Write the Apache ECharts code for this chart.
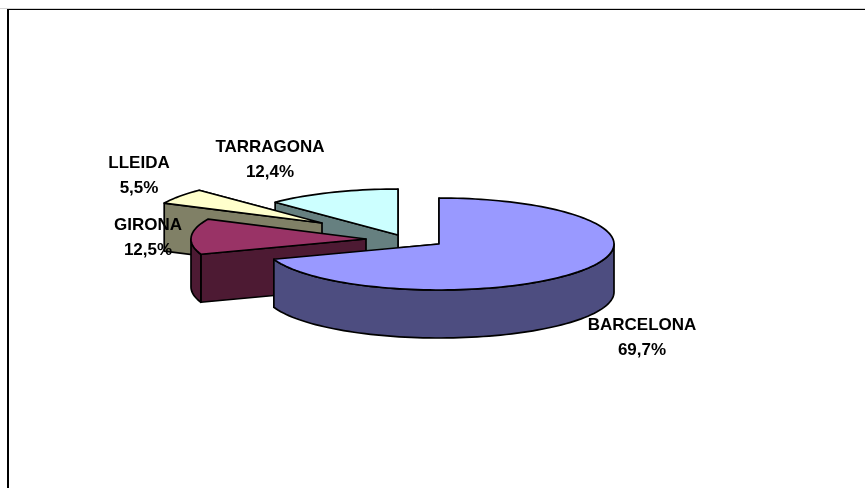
<!DOCTYPE html>
<html>
<head>
<meta charset="utf-8">
<style>html,body{margin:0;padding:0;background:#fff}#c{width:865px;height:488px}</style>
<script src="https://cdn.jsdelivr.net/npm/echarts@6/dist/echarts.min.js"></script>
</head>
<body>
<div id="c"></div>
<script>
const categories = ['BARCELONA', 'GIRONA', 'LLEIDA', 'TARRAGONA'];
const values = [69.7, 12.5, 5.5, 12.4];
const valueLabels = ['69,7%', '12,5%', '5,5%', '12,4%'];

// Layout and styling of the tilted, exploded pie
const topColors = ['#9999FF', '#993366', '#FFFFCC', '#CCFFFF'];
const wallColors = ['#4D4D80', '#4D1A33', '#808066', '#668080'];
const sliceOffsets = [[439, 244], [366, 239], [322, 223], [398, 235]];
const labelCentres = [[642, 338], [148, 238], [139, 176], [270, 160]];
const RX = 175, RY = 46, DEPTH = 48;

const total = values.reduce((a, b) => a + b, 0);
const pt = (c, deg, dy) => {
  const r = deg * Math.PI / 180;
  return [c[0] + RX * Math.sin(r), c[1] - RY * Math.cos(r) + (dy || 0)];
};
const arc = (c, from, to, dy) => {
  const out = [];
  const n = Math.max(2, Math.ceil(Math.abs(to - from) / 2));
  for (let i = 0; i <= n; i++) out.push(pt(c, from + (to - from) * i / n, dy));
  return out;
};
const line = { stroke: '#000', lineWidth: 1.7, lineJoin: 'round' };
const poly = (points, fill, z2) => ({
  type: 'polygon', z2, shape: { points }, style: Object.assign({ fill }, line), silent: true
});

function renderItem(params, api) {
  const i = api.value(2);
  const from = api.value(0) / total * 360;
  const to = api.value(1) / total * 360;
  const c = sliceOffsets[i];
  const wall = wallColors[i];
  const kids = [];
  // Radial walls: the far edge first, the near edge over it
  [to, from].forEach((a, k) => {
    kids.push(poly([c, pt(c, a), pt(c, a, DEPTH), [c[0], c[1] + DEPTH]], wall, 1 + k));
  });
  // Rim wall on the front half of the ellipse
  const f = Math.max(from, 90), t = Math.min(to, 270);
  if (t > f) {
    kids.push(poly(arc(c, f, t, 0).concat(arc(c, t, f, DEPTH)), wall, 3));
  }
  // Top face
  kids.push(poly([c].concat(arc(c, from, to, 0)), topColors[i], 4));
  return { type: 'group', children: kids };
}

function renderLabel(params, api) {
  const i = api.value(0);
  return {
    type: 'text', silent: true, z2: 100,
    x: labelCentres[i][0], y: labelCentres[i][1],
    style: {
      text: categories[i] + '\n' + valueLabels[i],
      fill: '#000',
      font: 'bold 17px "Liberation Sans", Arial, sans-serif',
      lineHeight: 25, align: 'center', verticalAlign: 'middle'
    }
  };
}

let acc = 0;
const sliceRows = values.map((v, i) => { const r = [acc, acc + v, i]; acc += v; return r; });
// Drawn back to front
const drawOrder = sliceRows.slice().reverse();

const chart = echarts.init(document.getElementById('c'));
chart.setOption({
  animation: false,
  backgroundColor: '#fff',
  graphic: [
    { type: 'line', z: 0, silent: true, shape: { x1: 0, y1: 8.5, x2: 865, y2: 8.5 }, style: { stroke: '#d4d4d4', lineWidth: 1 } },
    { type: 'line', z: 0, silent: true, shape: { x1: 7, y1: 9.5, x2: 865, y2: 9.5 }, style: { stroke: '#000', lineWidth: 1 } },
    { type: 'line', z: 0, silent: true, shape: { x1: 8, y1: 9, x2: 8, y2: 488 }, style: { stroke: '#000', lineWidth: 2 } }
  ],
  series: [
    { type: 'custom', coordinateSystem: 'none', renderItem, data: drawOrder, z: 2, clip: false, silent: true },
    { type: 'custom', coordinateSystem: 'none', renderItem: renderLabel, data: categories.map((_, i) => [i]), z: 3, silent: true }
  ]
});
</script>
</body>
</html>
